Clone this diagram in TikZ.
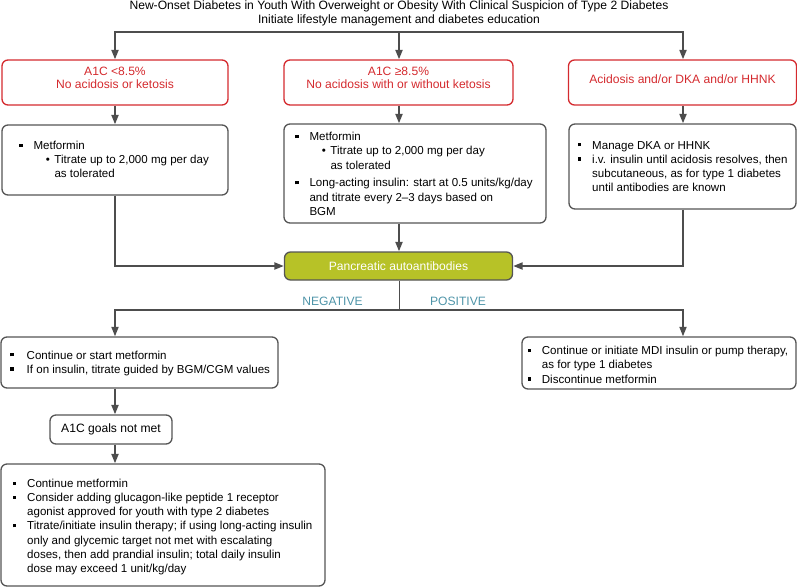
\documentclass[tikz,border=0pt]{standalone}
\usepackage{fontspec}
\setmainfont{Liberation Sans}
\usetikzlibrary{arrows.meta}
\definecolor{lineg}{HTML}{4D4D4D}
\definecolor{boxg}{HTML}{555555}
\definecolor{redt}{HTML}{D42A2E}
\definecolor{olivef}{HTML}{B7C227}
\definecolor{tealt}{HTML}{4E94A8}
\newcommand\sqb[1][11pt]{\llap{\rule[0.22em]{3.2pt}{3.2pt}\hspace{#1}}}
\newcommand\dotb{\llap{\textbullet\hspace{4.5pt}}}
\begin{document}
\begin{tikzpicture}[x=1pt,y=-1pt,
  font=\fontsize{11.55}{14.2}\selectfont,
  box/.style={draw=boxg, line width=1.3pt, rounded corners=6pt, inner sep=0pt},
  redbox/.style={draw=redt, line width=1.3pt, rounded corners=6pt, inner sep=0pt},
  redtxt/.style={text=redt, align=center, inner sep=0pt, font=\fontsize{12.1}{13}\selectfont},
  txt/.style={anchor=base west, inner sep=0pt},
  ln/.style={draw=lineg, line width=2pt},
  arr/.style={draw=lineg, line width=2pt, -{Triangle[width=7pt,length=9.5pt]}},
  lbl/.style={text=tealt, inner sep=0pt, font=\fontsize{12.1}{14}\selectfont}]
\useasboundingbox (0,0) rectangle (797,587);

% title
\node[align=center, inner sep=0pt, font=\fontsize{12.1}{14}\selectfont] (title) at (399,13)
  {New-Onset Diabetes in Youth With Overweight or Obesity With Clinical Suspicion of Type 2 Diabetes\\
   Initiate lifestyle management and diabetes education};

% red boxes
\node[redbox, minimum width=226pt, minimum height=45pt] (r1) at (115,82.5) {};
\node[redbox, minimum width=229pt, minimum height=45pt] (r2) at (398.5,82.5) {};
\node[redbox, minimum width=228pt, minimum height=45pt] (r3) at (682.5,82.5) {};
\node[redtxt] (r1t) at (115,78) {A1C <8.5\%\\No acidosis or ketosis};
\node[redtxt] (r2t) at (398.5,78) {A1C ≥8.5\%\\No acidosis with or without ketosis};
\node[redtxt] (r3t) at (682.5,79.5) {Acidosis and/or DKA and/or HHNK};

% second row
\node[box, minimum width=226pt, minimum height=70pt] (A) at (115,160) {};
\node[box, minimum width=262pt, minimum height=99pt] (B) at (415,173.5) {};
\node[box, minimum width=227pt, minimum height=85pt] (C) at (682.5,166.5) {};

\node[txt] (tA) at (33.3,149.5) {\begin{tabular}[t]{@{}l@{}}
  \sqb Metformin\\
  \hspace{21pt}\dotb Titrate up to 2,000 mg per day\\
  \hspace{21pt}as tolerated\end{tabular}};
\node[txt] (tB) at (309.3,140.7) {\begin{tabular}[t]{@{}l@{}}
  \sqb Metformin\\
  \hspace{21pt}\dotb Titrate up to 2,000 mg per day\\
  \hspace{21pt}as tolerated\\[3.5pt]
  \sqb Long-acting insulin: start at 0.5 units/kg/day\\
  and titrate every 2–3 days based on\\
  BGM\end{tabular}};
\node[txt] (tC) at (592,149) {\begin{tabular}[t]{@{}l@{}}
  \sqb Manage DKA or HHNK\\
  \sqb i.v. insulin until acidosis resolves, then\\
  subcutaneous, as for type 1 diabetes\\
  until antibodies are known\end{tabular}};

% pancreatic
\node[box, fill=olivef, minimum width=228pt, minimum height=28pt, text=white, font=\fontsize{12.1}{14}\selectfont] (P) at (398.5,266) {Pancreatic autoantibodies};

\node[lbl] (neg) at (332.5,301) {NEGATIVE};
\node[lbl] (pos) at (458,301) {POSITIVE};

% lower boxes
\node[box, minimum width=277pt, minimum height=51pt] (D) at (139.5,362.5) {};
\node[box, minimum width=274pt, minimum height=52pt] (E) at (659,363) {};
\node[box, minimum width=122pt, minimum height=29pt, font=\fontsize{12.1}{14}\selectfont] (G) at (111,429.5) {A1C goals not met};
\node[box, minimum width=324pt, minimum height=122pt] (F) at (163,525) {};

\node[txt] (tD) at (23.3,359) {\begin{tabular}[t]{@{}l@{}}
  \sqb[10pt] Continue or start metformin\\
  \sqb[10pt] If on insulin, titrate guided by BGM/CGM values\end{tabular}};
\node[txt] (tE) at (541.7,354.7) {\begin{tabular}[t]{@{}l@{}}
  \sqb Continue or initiate MDI insulin or pump therapy,\\
  as for type 1 diabetes\\
  \sqb Discontinue metformin\end{tabular}};
\node[txt] (tF) at (27,487.3) {\begin{tabular}[t]{@{}l@{}}
  \sqb Continue metformin\\
  \sqb Consider adding glucagon-like peptide 1 receptor\\
  agonist approved for youth with type 2 diabetes\\
  \sqb Titrate/initiate insulin therapy; if using long-acting insulin\\
  only and glycemic target not met with escalating\\
  doses, then add prandial insulin; total daily insulin\\
  dose may exceed 1 unit/kg/day\end{tabular}};

% connectors
\coordinate (t1) at (115,32);
\coordinate (t2) at (399,32);
\coordinate (t3) at (683,32);
\draw[arr] (t2) -| (t1 |- r1.north);
\draw[arr] (t2) -| (t3 |- r3.north);
\draw[arr] (t2) -- (t2 |- r2.north);
\draw[arr] (t1 |- r1.south) -- (t1 |- A.north);
\draw[arr] (t2 |- r2.south) -- (t2 |- B.north);
\draw[arr] (t3 |- r3.south) -- (t3 |- C.north);
\draw[arr] (t1 |- A.south) |- (P.west);
\draw[arr] (t2 |- B.south) -- (t2 |- P.north);
\draw[arr] (t3 |- C.south) |- (P.east);

\coordinate (j) at (399,310);
\draw[draw=lineg, line width=1pt] (t2 |- P.south) -- (j);
\draw[arr, line width=1.8pt] (j) -| (t1 |- D.north);
\draw[arr, line width=1.8pt] (j) -| (t3 |- E.north);
\draw[arr] (t1 |- D.south) -- (t1 |- G.north);
\draw[arr] (t1 |- G.south) -- (t1 |- F.north);
\end{tikzpicture}
\end{document}
